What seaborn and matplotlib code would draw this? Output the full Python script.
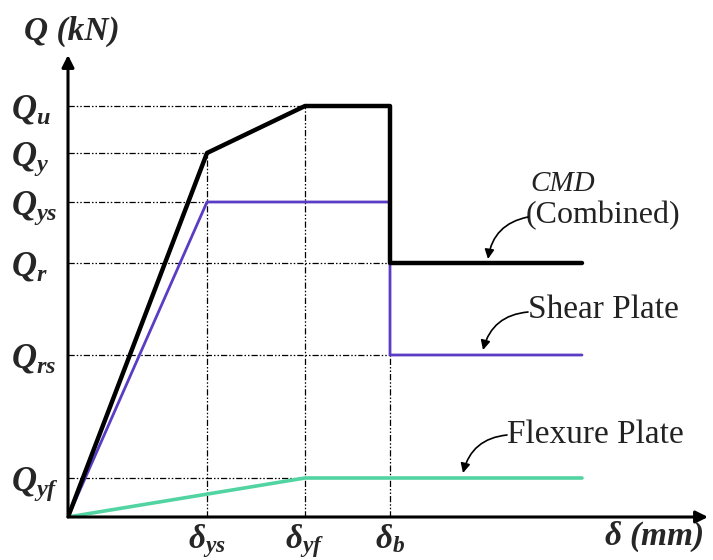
import numpy as np
import pandas as pd
import matplotlib
matplotlib.use("Agg")
import matplotlib.pyplot as plt
import seaborn as sns

# ---- data (schematic, arbitrary units) ----
d_ys, d_yf, d_b, d_end = 1.39, 2.37, 3.22, 5.14
Q_u, Q_y, Q_ys, Q_r, Q_rs, Q_yf = 4.11, 3.64, 3.15, 2.54, 1.62, 0.39

cmd_x = [0, d_ys, d_yf, d_b, d_b, d_end]
cmd_y = [0, Q_y, Q_u, Q_u, Q_r, Q_r]
shear_x = [0, d_ys, d_b, d_b, d_end]
shear_y = [0, Q_ys, Q_ys, Q_rs, Q_rs]
flex_x = [0, d_yf, d_end]
flex_y = [0, Q_yf, Q_yf]

ytick_vals = [Q_u, Q_y, Q_ys, Q_r, Q_rs, Q_yf]
ytick_labels = [r"$Q_u$", r"$Q_y$", r"$Q_{ys}$", r"$Q_r$", r"$Q_{rs}$", r"$Q_{yf}$"]
xtick_vals = [d_ys, d_yf, d_b]
xtick_labels = [r"$\delta_{ys}$", r"$\delta_{yf}$", r"$\delta_b$"]

sns.set_theme(style="white")
plt.rcParams["font.family"] = ["Liberation Serif", "DejaVu Serif"]
plt.rcParams["mathtext.fontset"] = "custom"
plt.rcParams["mathtext.it"] = "Liberation Serif:italic:bold"
plt.rcParams["mathtext.rm"] = "Liberation Serif:bold"
plt.rcParams["mathtext.bf"] = "Liberation Serif:italic:bold"

W, H = 713, 560
fig = plt.figure(figsize=(W / 100, H / 100), dpi=100)
ox, oy = 68, 517
ax = fig.add_axes([ox / W, (H - oy) / H, (708 - ox) / W, (oy - 55) / H])
ax.set_xlim(0, 6.40)
ax.set_ylim(0, 4.62)
for s in ax.spines.values():
    s.set_visible(False)

# reference (dash-dot-dot) lines
ref = dict(color="black", lw=0.9, linestyle=(0, (5, 1.6, 1.2, 1.6, 1.2, 1.6)), zorder=1)
ax.plot([0, d_yf], [Q_u, Q_u], **ref)
ax.plot([0, d_ys], [Q_y, Q_y], **ref)
ax.plot([0, d_ys], [Q_ys, Q_ys], **ref)
ax.plot([0, d_b], [Q_r, Q_r], **ref)
ax.plot([0, d_b], [Q_rs, Q_rs], **ref)
ax.plot([0, d_yf], [Q_yf, Q_yf], **ref)
ax.plot([d_ys, d_ys], [0, Q_y], **ref)
ax.plot([d_yf, d_yf], [0, Q_u], **ref)
ax.plot([d_b, d_b], [0, Q_rs], **ref)

# curves
sns.lineplot(x=flex_x, y=flex_y, sort=False, estimator=None, color="#52d4a2", lw=2.6, ax=ax, zorder=3)
sns.lineplot(x=shear_x, y=shear_y, sort=False, estimator=None, color="#5b3cc4", lw=2.0, ax=ax, zorder=4)
sns.lineplot(x=cmd_x, y=cmd_y, sort=False, estimator=None, color="black", lw=3.2, ax=ax, zorder=5)

# ticks
ax.set_yticks(ytick_vals)
ax.set_yticklabels(ytick_labels, fontsize=25, ha="left")
ax.set_xticks(xtick_vals)
ax.set_xticklabels(xtick_labels, fontsize=24)
ax.tick_params(axis="y", length=0, pad=41)
ax.tick_params(axis="x", length=0, pad=4)
ax.set_xlabel("")
ax.set_ylabel("")

# axis arrows
ax.annotate("", xy=(1, 0), xytext=(0, 0), xycoords="axes fraction",
            arrowprops=dict(arrowstyle="-|>", lw=2.2, color="black", mutation_scale=18,
                            shrinkA=0, shrinkB=0), annotation_clip=False)
ax.annotate("", xy=(0, 1), xytext=(0, 0), xycoords="axes fraction",
            arrowprops=dict(arrowstyle="-|>", lw=2.2, color="black", mutation_scale=18,
                            shrinkA=0, shrinkB=0), annotation_clip=False)

# axis titles
ax.text(-0.44, 4.86, "Q (kN)", fontsize=24, fontweight="bold", fontstyle="italic",
        ha="left", va="center", clip_on=False)
ax.text(6.35, -0.20, r"$\delta$ (mm)", fontsize=24, fontweight="bold", fontstyle="italic",
        ha="right", va="center", clip_on=False)

# annotations
arw = dict(arrowstyle="-|>", lw=1.2, color="black", mutation_scale=14,
           connectionstyle="arc3,rad=0.35", shrinkA=0, shrinkB=0)
ax.text(4.62, 3.26, "CMD", fontsize=21, fontstyle="italic", ha="left", va="baseline", color="#222222")
ax.text(4.58, 2.94, "(Combined)", fontsize=23, ha="left", va="baseline", color="#222222")
ax.annotate("", xy=(4.20, 2.58), xytext=(4.60, 3.00), arrowprops=arw)
ax.text(4.60, 2.07, "Shear Plate", fontsize=24, ha="left", va="center", color="#222222")
ax.annotate("", xy=(4.15, 1.67), xytext=(4.60, 2.05), arrowprops=arw)
ax.text(4.39, 0.82, "Flexure Plate", fontsize=24, ha="left", va="center", color="#222222")
ax.annotate("", xy=(3.95, 0.44), xytext=(4.39, 0.82), arrowprops=arw)

fig.savefig("out.png", dpi=100, facecolor="white")
